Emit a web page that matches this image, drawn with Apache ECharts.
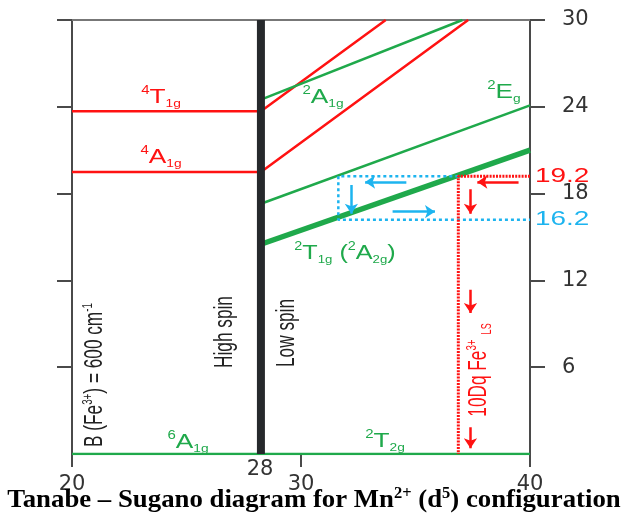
<!DOCTYPE html>
<html><head><meta charset="utf-8">
<script src="https://cdn.jsdelivr.net/npm/echarts@6/dist/echarts.min.js"></script>
<style>html,body{margin:0;padding:0;background:#fff}#c{width:627px;height:514px}</style>
</head><body><div id="c"></div>
<script>
// ---- data ----
const xTicks = [20, 30, 40];
const yTicks = [6, 12, 18, 24, 30];
const spinCross = 28.25;
const hs4T1g = [[20, 23.7], [28.25, 23.7], [33.7, 30]];
const hs4A1g = [[20, 19.5], [28.25, 19.5], [37.3, 30]];
const ls2A1g = [[28.25, 24.5], [37.05, 30]];
const ls2Eg = [[28.25, 17.3], [40, 24.1]];
const ls2T1g = [[28.25, 14.5], [40, 21.0]];
const ground = [[20, 0], [40, 0]];
const spinLine = [[28.25, 0], [28.25, 30]];
const redDotted = [[40, 19.2], [36.87, 19.2], [36.87, 0]];
const cyanDotted = [[36.87, 19.2], [31.63, 19.2], [31.63, 16.2], [40, 16.2]];
const cyanArrows = [
  [[34.6, 18.8], [32.8, 18.8]],
  [[32.2, 18.6], [32.2, 16.6]],
  [[34.0, 16.75], [35.85, 16.75]]
];
const redArrows = [
  [[39.5, 18.8], [37.7, 18.8]],
  [[37.4, 18.3], [37.4, 16.6]],
  [[37.4, 11.35], [37.4, 9.75]],
  [[37.4, 1.85], [37.4, 0.4]]
];
const markedValues = ['19.2', '16.2'];

// ---- styles ----
const RED = '#ff1212', GREEN = '#1fa94b', CYAN = '#1db4ef', DARK = '#26292c', AX = '#4a4a4a';
const SANS = 'Liberation Sans';

function lineSeries(data, color, width, extra) {
  return Object.assign({
    type: 'line', data: data, symbol: 'none', animation: false, silent: true,
    lineStyle: { color: color, width: width }, z: 3
  }, extra || {});
}
function arrowSeries(list, color) {
  return {
    type: 'lines', coordinateSystem: 'cartesian2d', animation: false, silent: true,
    symbol: ['none', 'arrow'], symbolSize: 10, z: 5,
    lineStyle: { color: color, width: 2.5, opacity: 1 },
    data: list.map(c => ({ coords: c }))
  };
}
function richStyle(color, main, sup, sub) {
  return {
    m: { fontSize: main, fontFamily: SANS, fill: color, lineHeight: 24 },
    sp: { fontSize: sup, fontFamily: SANS, fill: color, verticalAlign: 'top' },
    sb: { fontSize: sub, fontFamily: SANS, fill: color, verticalAlign: 'bottom' }
  };
}
function txt(x, y, text, color, opts) {
  opts = opts || {};
  return {
    type: 'text', x: x, y: y, z: 10,
    rotation: opts.rot || 0,
    scaleX: opts.sx || 1, scaleY: opts.sy || 1,
    style: {
      text: text, fill: color, align: opts.align || 'center', verticalAlign: 'middle',
      fontSize: opts.size || 21, fontFamily: opts.font || SANS, fontWeight: opts.weight || 'normal',
      rich: opts.rich || richStyle(color, opts.size || 21, 12, 11)
    }
  };
}

const chart = echarts.init(document.getElementById('c'), null, { renderer: 'canvas' });
const R90 = Math.PI / 2;
const vRich = c => richStyle(c, 21, 12, 12);
chart.setOption({
  animation: false,
  backgroundColor: '#fff',
  grid: { left: 72, right: 97, top: 20, bottom: 60, containLabel: false, outerBoundsMode: 'none' },
  xAxis: [
    { type: 'value', min: 20, max: 40, interval: 10, position: 'bottom',
      axisLine: { show: true, onZero: false, lineStyle: { color: AX, width: 2 } },
      axisTick: { show: true, length: 13, lineStyle: { color: AX, width: 2 } },
      axisLabel: { fontSize: 21, fontFamily: 'DejaVu Sans', color: '#333', margin: 20 },
      splitLine: { show: false } },
    { type: 'value', min: 20, max: 40, position: 'top',
      axisLine: { show: true, onZero: false, lineStyle: { color: '#777', width: 2 } },
      axisTick: { show: false }, axisLabel: { show: false }, splitLine: { show: false } }
  ],
  yAxis: [
    { type: 'value', min: 0, max: 30, interval: 6, position: 'right',
      axisLine: { show: true, onZero: false, lineStyle: { color: AX, width: 2 } },
      axisTick: { show: true, length: 15, customValues: yTicks, lineStyle: { color: AX, width: 2 } },
      axisLabel: { customValues: yTicks, fontSize: 21, fontFamily: 'DejaVu Sans', color: '#333', margin: 32 },
      splitLine: { show: false } },
    { type: 'value', min: 0, max: 30, interval: 6, position: 'left',
      axisLine: { show: true, onZero: false, lineStyle: { color: AX, width: 2 } },
      axisTick: { show: true, length: 15, customValues: yTicks, lineStyle: { color: AX, width: 2 } },
      axisLabel: { show: false }, splitLine: { show: false } }
  ],
  series: [
    lineSeries(ground, GREEN, 2.5),
    lineSeries(hs4T1g, RED, 2.5),
    lineSeries(hs4A1g, RED, 2.5),
    lineSeries(ls2A1g, GREEN, 2.5),
    lineSeries(ls2Eg, GREEN, 2.5),
    lineSeries(ls2T1g, GREEN, 5.5),
    lineSeries(cyanDotted, CYAN, 2.5, { lineStyle: { color: CYAN, width: 2.5, type: [3, 3] }, z: 4 }),
    lineSeries(redDotted, RED, 3, { lineStyle: { color: RED, width: 3, type: [2, 1.2] }, z: 4 }),
    lineSeries(spinLine, DARK, 8, { z: 6 }),
    arrowSeries(cyanArrows, CYAN),
    arrowSeries(redArrows, RED)
  ],
  graphic: [
    txt(161, 97, '{sp|4}{m|T}{sb|1g}', RED, { sx: 1.25 }),
    txt(161, 157, '{sp|4}{m|A}{sb|1g}', RED, { sx: 1.25 }),
    txt(323, 97, '{sp|2}{m|A}{sb|1g}', GREEN, { sx: 1.25 }),
    txt(504, 92, '{sp|2}{m|E}{sb|g}', GREEN, { sx: 1.25 }),
    txt(345, 253, '{sp|2}{m|T}{sb|1g}{m| (}{sp|2}{m|A}{sb|2g}{m|)}', GREEN, { sx: 1.2 }),
    txt(188, 442, '{sp|6}{m|A}{sb|1g}', GREEN, { sx: 1.25 }),
    txt(385, 441, '{sp|2}{m|T}{sb|2g}', GREEN, { sx: 1.25 }),
    txt(225, 332, '{m|High spin}', '#222', { rot: R90, sx: 0.82, sy: 1.25, rich: vRich('#222') }),
    txt(287, 333, '{m|Low spin}', '#222', { rot: R90, sx: 0.82, sy: 1.25, rich: vRich('#222') }),
    txt(95, 375, '{m|B (Fe}{sp|3+}{m|) = 600 cm}{sp|-1}', '#222', { rot: R90, sx: 0.82, sy: 1.25, rich: vRich('#222') }),
    txt(479, 370, '{m|10Dq Fe}{sp|3+}{sb|  LS}', RED, { rot: R90, sx: 0.82, sy: 1.25, rich: richStyle(RED, 21, 12, 11) }),
    txt(535, 176, '{m|' + markedValues[0] + '}', RED, { align: 'left', sx: 1.33, rich: richStyle(RED, 21, 12, 12) }),
    txt(535, 219, '{m|' + markedValues[1] + '}', CYAN, { align: 'left', sx: 1.33, rich: richStyle(CYAN, 21, 12, 12) }),
    { type: 'text', x: 260, y: 470, z: 10, style: { text: String(Math.round(spinCross)), fill: '#333', fontSize: 21, fontFamily: 'DejaVu Sans', align: 'center', verticalAlign: 'middle' } },
    { type: 'text', x: 314, y: 500, z: 10, scaleX: 1.03, style: {
        text: '{t|Tanabe – Sugano diagram for Mn}{s|2+}{t| (d}{s|5}{t|) configuration}',
        align: 'center', verticalAlign: 'middle',
        rich: {
          t: { fontSize: 26, fontFamily: 'Liberation Serif', fontWeight: 'bold', fill: '#000', lineHeight: 28 },
          s: { fontSize: 16, fontFamily: 'Liberation Serif', fontWeight: 'bold', fill: '#000', verticalAlign: 'top' }
        } } }
  ]
});
</script></body></html>
